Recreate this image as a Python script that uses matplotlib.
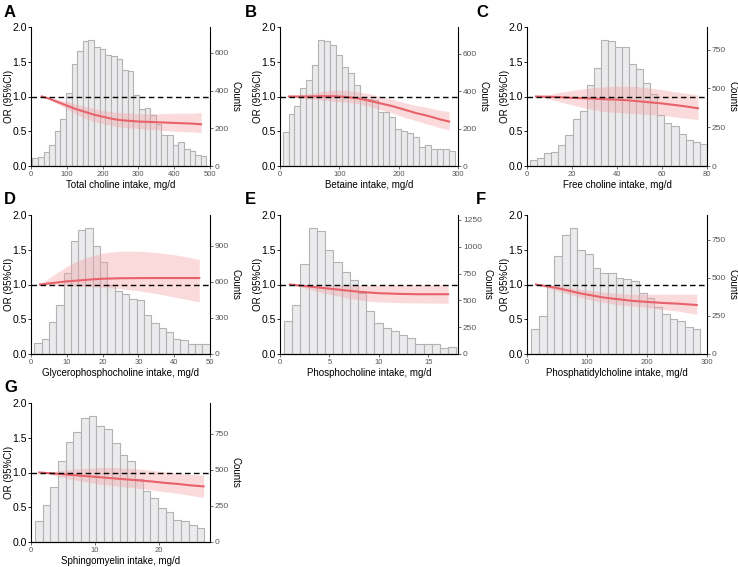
import numpy as np
import matplotlib
matplotlib.use('Agg')
import matplotlib.pyplot as plt

plt.rcParams['font.family'] = ['Liberation Sans', 'DejaVu Sans']

# ---------------- data ----------------
# A: total choline
a_bins = (3.7, 490.0)
a_counts = [44, 48, 74, 111, 184, 251, 387, 542, 608, 663, 670, 630, 623, 586, 582, 567,
            509, 505, 376, 302, 310, 273, 221, 166, 162, 111, 129, 92, 81, 59, 55]
a_x = [30, 50, 75, 100, 125, 150, 175, 200, 225, 250, 300, 350, 400, 450, 475]
a_or = [1.0, 0.97, 0.92, 0.87, 0.82, 0.78, 0.74, 0.71, 0.68, 0.66, 0.64, 0.63, 0.62, 0.61, 0.60]
a_hi = [1.0, 0.99, 0.96, 0.93, 0.89, 0.86, 0.83, 0.80, 0.78, 0.77, 0.75, 0.75, 0.76, 0.76, 0.77]
a_lo = [1.0, 0.96, 0.89, 0.82, 0.75, 0.69, 0.64, 0.61, 0.58, 0.56, 0.54, 0.52, 0.50, 0.49, 0.48]

# B: betaine
b_bins = (4.4, 294.4)
b_counts = [182, 278, 323, 416, 460, 538, 675, 668, 646, 594, 527, 497, 434, 371, 360, 352,
            286, 289, 260, 200, 186, 178, 156, 104, 111, 89, 93, 93, 78]
b_x = [15, 30, 50, 70, 90, 110, 130, 150, 170, 190, 210, 230, 250, 270, 285]
b_or = [1.0, 1.0, 1.0, 1.005, 1.005, 0.995, 0.975, 0.94, 0.90, 0.86, 0.81, 0.76, 0.72, 0.67, 0.64]
b_hi = [1.0, 1.02, 1.04, 1.07, 1.09, 1.09, 1.07, 1.04, 1.0, 0.96, 0.91, 0.87, 0.84, 0.80, 0.78]
b_lo = [1.0, 0.98, 0.96, 0.95, 0.93, 0.92, 0.90, 0.86, 0.81, 0.76, 0.70, 0.65, 0.60, 0.55, 0.52]

# C: free choline
c_bins = (1.4, 79.9)
c_counts = [39, 54, 83, 87, 134, 197, 300, 354, 524, 631, 814, 806, 766, 766, 658, 627,
            537, 466, 331, 278, 260, 206, 166, 157, 139]
c_x = [4, 10, 15, 20, 25, 30, 35, 40, 45, 50, 55, 60, 65, 70, 76]
c_or = [1.0, 0.995, 0.99, 0.98, 0.975, 0.97, 0.96, 0.955, 0.945, 0.93, 0.915, 0.90, 0.88, 0.86, 0.83]
c_hi = [1.0, 1.03, 1.06, 1.09, 1.11, 1.13, 1.14, 1.15, 1.15, 1.14, 1.12, 1.10, 1.07, 1.05, 1.02]
c_lo = [1.0, 0.96, 0.92, 0.88, 0.84, 0.81, 0.78, 0.77, 0.76, 0.75, 0.74, 0.73, 0.71, 0.69, 0.67]

# D: glycerophosphocholine
d_bins = (0.93, 49.9)
d_counts = [92, 127, 266, 405, 676, 942, 1029, 1051, 896, 763, 578, 520, 497, 457, 451,
            324, 254, 214, 179, 121, 116, 87, 81, 81]
d_x = [2.5, 5, 7.5, 10, 12.5, 15, 17.5, 20, 25, 30, 35, 40, 47]
d_or = [1.0, 1.015, 1.03, 1.045, 1.055, 1.065, 1.075, 1.083, 1.09, 1.092, 1.093, 1.093, 1.093]
d_hi = [1.0, 1.09, 1.18, 1.26, 1.33, 1.38, 1.42, 1.45, 1.48, 1.48, 1.46, 1.43, 1.36]
d_lo = [1.0, 0.99, 0.985, 0.98, 0.975, 0.97, 0.965, 0.96, 0.94, 0.91, 0.87, 0.82, 0.75]

# E: phosphocholine
e_bins = (0.41, 17.84)
e_counts = [305, 454, 836, 1178, 1147, 966, 855, 765, 687, 564, 402, 285, 240, 214, 181,
            149, 97, 97, 91, 52, 65]
e_x = [1, 2, 3, 4, 5, 6, 7, 8, 9, 10, 12, 14, 17]
e_or = [1.0, 0.985, 0.97, 0.955, 0.94, 0.925, 0.91, 0.895, 0.885, 0.875, 0.865, 0.86, 0.86]
e_hi = [1.0, 1.0, 0.995, 0.99, 0.99, 0.99, 0.99, 0.99, 0.99, 0.99, 0.99, 0.995, 1.0]
e_lo = [1.0, 0.97, 0.93, 0.89, 0.86, 0.83, 0.80, 0.78, 0.76, 0.75, 0.74, 0.735, 0.73]

# F: phosphatidylcholine
f_bins = (7.2, 288.8)
f_counts = [164, 251, 447, 644, 781, 830, 680, 657, 566, 534, 534, 502, 493, 479, 402,
            365, 310, 260, 228, 215, 178, 164]
f_x = [15, 30, 50, 70, 90, 110, 130, 150, 175, 200, 225, 250, 283]
f_or = [1.0, 0.98, 0.95, 0.91, 0.87, 0.84, 0.81, 0.79, 0.765, 0.75, 0.735, 0.725, 0.705]
f_hi = [1.0, 0.99, 0.98, 0.96, 0.93, 0.91, 0.89, 0.87, 0.86, 0.86, 0.86, 0.86, 0.86]
f_lo = [1.0, 0.96, 0.91, 0.86, 0.81, 0.77, 0.74, 0.71, 0.69, 0.67, 0.64, 0.62, 0.57]

# G: sphingomyelin
g_bins = (0.6, 27.1)
g_counts = [149, 255, 381, 559, 694, 766, 862, 876, 805, 781, 689, 602, 559, 434, 357,
            304, 236, 207, 154, 145, 116, 96]
g_x = [1.3, 3, 5, 7, 9, 11, 13, 15, 17, 19, 21, 23, 25, 27]
g_or = [1.0, 0.99, 0.975, 0.96, 0.945, 0.93, 0.915, 0.90, 0.885, 0.87, 0.85, 0.835, 0.815, 0.80]
g_hi = [1.0, 1.01, 1.03, 1.05, 1.06, 1.07, 1.07, 1.06, 1.05, 1.03, 1.01, 0.99, 0.97, 0.96]
g_lo = [1.0, 0.97, 0.93, 0.89, 0.86, 0.83, 0.81, 0.79, 0.77, 0.75, 0.72, 0.70, 0.67, 0.64]

panels = [
    ('A', 'Total choline intake, mg/d', a_bins, a_counts, a_x, a_or, a_lo, a_hi,
     (0, 500), [0, 100, 200, 300, 400, 500], [0, 200, 400, 600]),
    ('B', 'Betaine intake, mg/d', b_bins, b_counts, b_x, b_or, b_lo, b_hi,
     (0, 300), [0, 100, 200, 300], [0, 200, 400, 600]),
    ('C', 'Free choline intake, mg/d', c_bins, c_counts, c_x, c_or, c_lo, c_hi,
     (0, 80), [0, 20, 40, 60, 80], [0, 250, 500, 750]),
    ('D', 'Glycerophosphocholine intake, mg/d', d_bins, d_counts, d_x, d_or, d_lo, d_hi,
     (0, 50), [0, 10, 20, 30, 40, 50], [0, 300, 600, 900]),
    ('E', 'Phosphocholine intake, mg/d', e_bins, e_counts, e_x, e_or, e_lo, e_hi,
     (0, 18), [0, 5, 10, 15], [0, 250, 500, 750, 1000, 1250]),
    ('F', 'Phosphatidylcholine intake, mg/d', f_bins, f_counts, f_x, f_or, f_lo, f_hi,
     (0, 300), [0, 100, 200, 300], [0, 250, 500, 750]),
    ('G', 'Sphingomyelin intake, mg/d', g_bins, g_counts, g_x, g_or, g_lo, g_hi,
     (0, 28), [0, 10, 20], [0, 250, 500, 750]),
]

# ---------------- layout (pixels) ----------------
W, H = 738, 567
col_l = [31, 280, 527]
col_w = [179, 178, 180]
row_t = [27, 215, 403]
ax_h = 139
lab_x = [4, 245, 476]
lab_y = [5, 192, 380]

LINE = '#e8626a'
BAND = '#f59ea4'
GREY = '#555555'

fig = plt.figure(figsize=(W / 100, H / 100), dpi=100)

for i, (lab, xlabel, bins, counts, cx, cor, clo, chi, xlim, xt, ct) in enumerate(panels):
    r, c = divmod(i, 3)
    rect = [col_l[c] / W, 1 - (row_t[r] + ax_h) / H, col_w[c] / W, ax_h / H]
    ax = fig.add_axes(rect)
    ax2 = ax.twinx()
    ax.set_zorder(ax2.get_zorder() + 1)
    ax.patch.set_visible(False)

    # histogram of intake on the right (Counts) axis
    edges = np.linspace(bins[0], bins[1], len(counts) + 1)
    ax2.bar(edges[:-1], counts, width=np.diff(edges), align='edge',
            color='#ebebed', edgecolor='#b3b3b3', linewidth=0.8)
    ax2.set_ylim(0, max(counts) * 1.1)
    ax2.set_yticks(ct)
    ax2.tick_params(axis='y', labelsize=6, colors=GREY, length=2, width=0.6, pad=1.5)
    ax2.set_ylabel('Counts', rotation=270, fontsize=7, labelpad=8)

    # restricted cubic spline OR with 95% CI
    ax.fill_between(cx, clo, chi, color=BAND, alpha=0.38, linewidth=0)
    ax.plot(cx, cor, color=LINE, lw=1.5)
    ax.axhline(1.0, color='black', lw=1.0, ls=(0, (4, 2.5)))
    ax.set_xlim(*xlim)
    ax.set_ylim(0, 2.0)
    ax.set_yticks([0, 0.5, 1.0, 1.5, 2.0])
    ax.set_yticklabels(['0.0', '0.5', '1.0', '1.5', '2.0'])
    ax.set_xticks(xt)
    ax.tick_params(axis='y', labelsize=7.5, length=2, width=0.6, pad=1)
    ax.tick_params(axis='x', labelsize=5.5, colors=GREY, length=2, width=0.6, pad=1.5)
    ax.set_xlabel(xlabel, fontsize=7, labelpad=1.5)
    ax.set_ylabel('OR (95%CI)', fontsize=7, labelpad=-1)

    for a in (ax, ax2):
        a.spines['top'].set_visible(False)
        for s in ('left', 'right', 'bottom'):
            a.spines[s].set_linewidth(0.8)
    ax.spines['right'].set_visible(False)
    ax2.spines['left'].set_visible(False)

    fig.text(lab_x[c] / W, 1 - lab_y[r] / H, lab, fontsize=12, fontweight='bold',
             va='top', ha='left')

fig.savefig('out.png', dpi=100)
